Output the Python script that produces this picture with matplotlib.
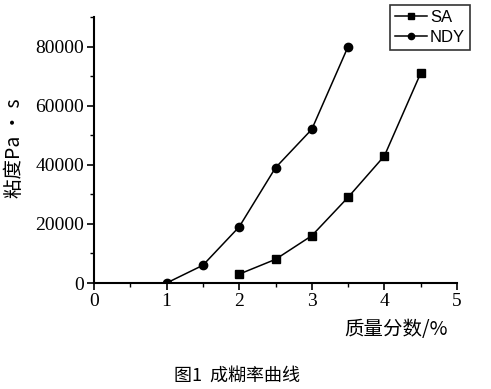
import matplotlib
matplotlib.use("Agg")
import matplotlib.pyplot as plt
from matplotlib.ticker import MultipleLocator

plt.rcParams['font.family'] = ['Liberation Serif', 'DejaVu Serif']

sa_x = [2, 2.5, 3, 3.5, 4, 4.5]
sa_y = [3000, 8000, 16000, 29000, 43000, 71000]
ndy_x = [1, 1.5, 2, 2.5, 3, 3.5]
ndy_y = [0, 6000, 19000, 39000, 52000, 80000]

xticks = [0, 1, 2, 3, 4, 5]
yticks = [0, 20000, 40000, 60000, 80000]

fig = plt.figure(figsize=(4.91, 3.89), dpi=100)
ax = fig.add_axes([94/491, 1-283/389, (457-94)/491, (283-17)/389])

ax.plot(sa_x, sa_y, color='black', marker='s', markersize=6, linewidth=1.1, label='SA')
ax.plot(ndy_x, ndy_y, color='black', marker='o', markersize=6, linewidth=1.1, label='NDY')

ax.set_xlim(0, 5)
ax.set_ylim(0, 90000)
ax.set_xticks(xticks)
ax.set_yticks(yticks)
ax.xaxis.set_minor_locator(MultipleLocator(0.5))
ax.yaxis.set_minor_locator(MultipleLocator(10000))
for s in ['top', 'right']:
    ax.spines[s].set_visible(False)
for s in ['left', 'bottom']:
    ax.spines[s].set_linewidth(1.5)
ax.tick_params(which='major', direction='out', length=5, width=1.2, labelsize=14, pad=2)
ax.tick_params(which='minor', direction='out', length=3, width=1.0)

leg = fig.legend(loc='upper left', bbox_to_anchor=(390/491, 1-5/389), frameon=True,
                 fancybox=False, edgecolor='black', handlelength=1.9, borderaxespad=0,
                 borderpad=0.3, labelspacing=0.3, handletextpad=0.2, markerscale=0.75,
                 prop={'family': ['Liberation Sans', 'DejaVu Sans'], 'size': 12})
leg.get_frame().set_linewidth(1.2)

cjk = ['Noto Sans CJK SC', 'DejaVu Sans']
fig.text(15/491, 1-148/389, '粘度Pa • s', rotation=90, ha='center', va='center',
         fontsize=14, family=cjk)
fig.text(396/491, 1-329/389, '质量分数/%', ha='center', va='center',
         fontsize=14, family=cjk)
fig.text(237/491, 1-376/389, '图1  成糊率曲线', ha='center', va='center',
         fontsize=13, family=cjk)

fig.savefig('out.png', dpi=100)
